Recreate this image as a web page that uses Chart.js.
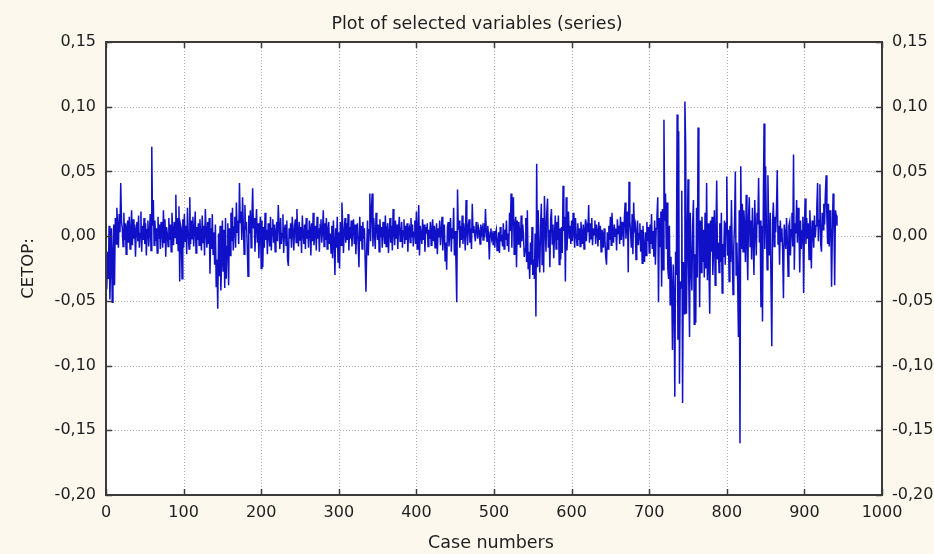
<!DOCTYPE html>
<html>
<head>
<meta charset="utf-8">
<title>Plot of selected variables (series)</title>
<script src="https://cdn.jsdelivr.net/npm/chart.js@4"></script>
<style>
  html, body { margin: 0; padding: 0; background: #fcf8ee; }
  canvas { display: block; }
</style>
</head>
<body>
<canvas id="c" width="934" height="554"></canvas>
<script>
// ---- Texts ----
const chartTitle = "Plot of selected variables (series)";
const xAxisTitle = "Case numbers";
const yAxisTitle = "CETOP:";

// ---- Tick values and labels ----
const xTickValues = [0, 100, 200, 300, 400, 500, 600, 700, 800, 900, 1000];
const xTickLabels = ["0", "100", "200", "300", "400", "500", "600", "700", "800", "900", "1000"];
const yTickValues = [-0.20, -0.15, -0.10, -0.05, 0.00, 0.05, 0.10, 0.15];
const yTickLabels = ["-0,20", "-0,15", "-0,10", "-0,05", "0,00", "0,05", "0,10", "0,15"];

// ---- Series: CETOP values, case 1 .. 942 ----
const cetopValues = [
-0.041,-0.012,-0.033,0.008,-0.049,-0.022,0.006,-0.051,-0.015,0.009,
-0.038,0.014,-0.006,0.022,0.008,-0.009,0.017,0.003,0.041,0.011,
0.006,-0.008,0.018,-0.003,0.010,-0.014,0.007,0.012,-0.005,0.015,
-0.010,0.004,0.020,-0.007,0.013,-0.002,0.009,-0.016,0.005,0.011,
-0.004,0.016,-0.009,0.002,0.019,-0.012,0.008,-0.003,0.014,-0.006,
0.010,-0.015,0.005,0.012,-0.008,0.003,0.017,-0.011,0.069,0.008,
0.028,-0.007,0.012,-0.004,0.006,-0.013,0.015,-0.002,0.009,-0.010,
0.011,0.004,-0.009,0.020,-0.005,0.013,-0.016,0.007,0.002,-0.008,
0.014,-0.003,0.009,-0.012,0.018,0.005,-0.007,0.011,-0.001,0.032,
-0.006,0.014,-0.011,0.023,-0.035,0.009,0.006,-0.033,0.013,-0.009,
0.017,-0.004,0.008,-0.014,0.022,0.003,-0.010,0.030,-0.006,0.012,
-0.002,0.015,-0.008,0.005,0.019,-0.013,0.007,-0.003,0.010,-0.007,
0.013,0.001,-0.011,0.016,-0.005,0.008,-0.015,0.021,0.004,-0.009,
0.011,-0.006,0.014,-0.029,0.006,-0.010,0.017,-0.014,0.003,-0.022,
0.009,-0.039,-0.018,-0.056,0.002,-0.031,0.008,-0.042,-0.020,0.012,
-0.027,0.005,-0.040,0.014,-0.033,-0.008,0.010,-0.038,0.006,-0.015,
0.018,-0.004,0.022,-0.011,0.007,0.015,-0.009,0.026,0.003,0.012,
-0.006,0.041,0.010,0.019,-0.003,0.030,0.008,-0.014,0.024,0.005,
0.011,-0.007,-0.031,0.016,0.002,0.020,-0.009,0.013,0.037,0.006,
0.014,-0.012,0.008,0.021,-0.005,0.010,-0.017,0.004,0.015,-0.025,
0.012,-0.024,0.007,-0.009,0.018,-0.003,0.005,-0.014,0.010,0.002,
-0.008,0.015,-0.011,0.006,0.013,-0.005,0.009,-0.012,0.003,0.011,
-0.004,0.024,0.008,-0.010,0.014,-0.006,0.002,0.017,-0.013,0.005,
0.009,-0.007,0.012,-0.018,-0.023,0.006,-0.002,0.010,-0.009,0.015,
0.004,-0.011,0.008,0.013,-0.005,0.021,0.003,-0.008,0.011,-0.003,
0.007,-0.013,0.016,0.001,-0.006,0.009,-0.010,0.014,-0.002,0.005,
-0.009,0.012,0.006,-0.015,0.010,-0.004,0.018,-0.007,0.003,0.008,
-0.011,0.015,-0.002,0.006,-0.012,0.009,0.013,-0.005,0.004,0.020,
-0.008,0.010,-0.003,0.014,-0.010,0.005,0.011,-0.006,0.002,-0.013,
0.008,-0.017,0.012,-0.004,-0.030,0.006,-0.009,0.015,-0.020,0.003,
-0.025,0.011,-0.007,0.026,0.009,-0.013,0.004,0.014,-0.005,0.010,
-0.003,0.017,-0.011,0.007,-0.002,0.012,-0.008,0.005,0.013,-0.006,
0.009,-0.014,0.003,0.010,-0.007,-0.024,0.015,-0.004,0.008,-0.010,
0.011,-0.002,0.006,-0.019,-0.043,-0.009,0.012,-0.015,0.005,0.033,
-0.004,0.020,0.033,-0.008,0.014,0.002,-0.010,0.018,0.006,-0.003,
0.009,-0.012,0.013,-0.001,0.007,-0.009,0.011,0.004,-0.006,0.016,
-0.008,0.005,0.010,-0.013,0.002,0.014,-0.005,0.008,-0.011,0.021,
0.003,-0.007,0.012,-0.002,0.009,-0.010,0.006,0.015,-0.004,0.001,
0.011,-0.009,0.004,0.013,-0.006,0.008,-0.003,0.010,-0.012,0.005,
0.007,-0.005,0.014,-0.001,0.009,-0.008,0.003,0.012,-0.006,0.019,
-0.010,0.004,0.024,-0.015,0.008,0.001,-0.006,0.013,-0.003,0.009,
-0.012,0.007,0.002,0.010,-0.008,0.005,-0.002,0.011,-0.007,0.006,
0.013,-0.004,0.008,-0.009,0.003,0.010,-0.014,0.006,-0.001,0.012,
-0.007,0.004,0.015,-0.011,0.002,0.009,-0.019,-0.005,-0.026,0.007,
0.011,-0.008,0.003,0.014,-0.012,0.006,-0.002,0.022,-0.015,0.004,
-0.020,-0.051,0.036,0.005,0.012,-0.009,0.008,-0.003,0.016,-0.006,
0.010,0.002,-0.011,0.028,0.004,-0.007,0.009,0.013,-0.005,0.006,
-0.010,0.025,0.003,0.008,0.001,-0.004,0.011,0.005,-0.002,0.007,
0.004,-0.006,0.009,0.002,0.006,-0.003,0.010,-0.001,0.021,0.005,
-0.004,0.008,0.000,-0.018,0.003,0.006,-0.002,0.001,-0.007,0.004,
-0.009,0.002,0.005,-0.011,-0.006,0.003,-0.013,0.007,-0.004,0.001,
-0.008,0.010,-0.010,0.005,-0.003,0.012,-0.007,0.002,-0.012,0.018,
0.004,0.033,-0.009,0.026,0.030,-0.014,0.008,0.015,-0.024,0.012,
-0.006,0.011,0.003,-0.009,0.016,-0.004,0.009,0.001,-0.016,-0.010,
0.014,-0.020,0.020,-0.025,-0.012,-0.033,-0.005,-0.022,0.007,-0.030,
-0.018,-0.033,0.002,-0.062,0.056,-0.024,0.020,-0.015,-0.028,0.008,
0.025,-0.022,0.014,-0.028,0.031,0.006,-0.012,0.018,0.029,-0.009,
0.005,-0.024,0.013,0.021,-0.006,0.009,-0.017,0.002,0.016,-0.010,
0.011,-0.003,0.016,-0.022,0.006,-0.018,0.007,-0.013,0.039,0.004,
0.015,-0.035,0.030,-0.011,0.005,0.019,-0.002,0.008,-0.006,0.012,
-0.004,0.018,0.003,-0.009,0.014,0.001,-0.007,0.010,-0.003,0.006,
-0.008,0.011,0.002,-0.006,0.009,-0.010,0.005,0.013,-0.004,0.007,
0.003,0.024,-0.005,0.010,-0.002,0.014,-0.007,0.006,0.001,0.012,
-0.006,0.009,0.004,-0.008,0.011,-0.003,0.008,-0.012,0.005,0.002,
-0.009,0.006,-0.004,-0.016,-0.022,0.003,-0.010,0.008,-0.003,0.015,
-0.007,0.018,0.004,-0.005,0.009,0.000,0.006,-0.011,0.013,0.002,
0.008,-0.006,0.015,-0.003,0.011,0.005,-0.008,0.014,0.026,-0.002,
0.010,0.019,-0.028,0.042,0.012,0.003,-0.009,0.017,-0.014,0.026,
0.006,0.009,-0.018,0.004,0.012,-0.007,0.002,0.010,-0.012,0.005,
-0.021,0.008,-0.009,-0.020,0.003,-0.015,0.011,-0.004,0.007,-0.013,
0.009,-0.006,0.017,-0.010,0.004,-0.016,0.012,-0.022,0.006,0.015,
0.030,-0.051,0.014,-0.008,0.019,-0.039,0.021,-0.026,0.090,0.012,
0.033,-0.010,0.026,-0.025,-0.033,0.008,-0.053,-0.016,-0.038,-0.088,
-0.022,-0.045,-0.124,-0.012,-0.030,0.094,-0.080,0.081,-0.114,-0.035,
-0.040,0.035,-0.129,-0.020,-0.060,0.104,0.070,-0.060,-0.010,0.044,
-0.035,-0.078,0.018,-0.025,-0.042,0.008,0.028,-0.068,-0.014,-0.067,
0.022,-0.032,0.084,0.010,-0.055,0.012,-0.028,0.015,-0.020,0.005,
-0.032,0.018,-0.025,0.041,-0.034,0.010,-0.025,-0.060,0.012,-0.012,
0.015,-0.030,-0.008,0.020,-0.038,0.002,0.043,-0.018,-0.005,-0.028,
0.010,-0.020,0.018,-0.044,-0.006,-0.016,0.012,-0.022,0.010,0.046,
-0.015,0.005,-0.035,0.008,-0.020,0.028,-0.012,-0.045,-0.008,0.010,
0.050,-0.030,-0.005,-0.035,-0.078,0.020,-0.160,0.054,-0.010,0.025,
-0.012,0.020,0.008,-0.020,0.032,-0.005,-0.034,0.015,0.030,-0.008,
0.012,-0.018,0.022,-0.003,-0.030,0.028,0.005,-0.015,0.018,0.009,
0.045,-0.005,0.012,-0.055,0.008,-0.066,0.020,0.087,-0.010,0.054,
0.010,-0.026,0.047,0.005,-0.015,0.018,-0.039,-0.085,0.012,0.026,
-0.008,0.015,0.003,0.020,0.051,-0.006,0.008,-0.022,0.012,-0.004,
0.006,-0.012,-0.048,0.009,0.002,-0.010,0.014,-0.003,-0.031,0.008,
0.011,-0.015,0.005,0.018,-0.008,0.063,-0.026,0.010,0.002,0.028,
-0.005,0.022,0.006,-0.028,0.012,-0.010,0.004,0.015,-0.044,0.008,
0.029,-0.006,0.014,-0.002,0.010,-0.018,0.020,0.003,-0.025,0.012,
0.005,-0.009,0.016,-0.001,0.008,0.022,0.041,-0.004,0.012,0.040,
-0.006,-0.012,0.018,0.005,0.025,0.009,0.032,0.047,0.014,-0.006,
0.025,-0.008,0.020,0.010,-0.039,0.002,0.033,0.015,-0.038,0.020,
0.016,0.008
];
// case numbers 1..N
const caseNumbers = cetopValues.map((_, i) => i + 1);

const FONT = "'DejaVu Sans', 'Liberation Sans', Arial, sans-serif";
const TEXT_COLOR = '#1e1e1e';
const BG = '#fcf8ee';

const framePlugin = {
  id: 'framePlugin',
  beforeDraw(chart) {
    const { ctx, chartArea: a } = chart;
    ctx.save();
    ctx.fillStyle = BG;
    ctx.fillRect(0, 0, chart.width, chart.height);
    ctx.fillStyle = '#ffffff';
    ctx.fillRect(a.left, a.top, a.right - a.left, a.bottom - a.top);
    // dotted grid
    const xs = chart.scales.x, ys = chart.scales.y;
    ctx.strokeStyle = '#b0b0b0';
    ctx.lineWidth = 1;
    ctx.setLineDash([1, 2]);
    xTickValues.forEach(v => {
      const px = Math.round(xs.getPixelForValue(v)) + 0.5;
      if (px <= a.left + 1 || px >= a.right - 1) return;
      ctx.beginPath(); ctx.moveTo(px, a.top); ctx.lineTo(px, a.bottom); ctx.stroke();
    });
    yTickValues.forEach(v => {
      const py = Math.round(ys.getPixelForValue(v)) + 0.5;
      if (py <= a.top + 1 || py >= a.bottom - 1) return;
      ctx.beginPath(); ctx.moveTo(a.left, py); ctx.lineTo(a.right, py); ctx.stroke();
    });
    ctx.restore();
  },
  afterDatasetsDraw(chart) {
    const { ctx, chartArea: a } = chart;
    const xs = chart.scales.x, ys = chart.scales.y;
    ctx.save();
    ctx.strokeStyle = '#3a3a3a';
    ctx.lineWidth = 2;
    ctx.setLineDash([]);
    ctx.strokeRect(a.left, a.top, a.right - a.left, a.bottom - a.top);
    ctx.lineWidth = 1.5;
    const tl = 6;
    xTickValues.forEach(v => {
      const px = Math.round(xs.getPixelForValue(v)) + 0.5;
      ctx.beginPath(); ctx.moveTo(px, a.bottom); ctx.lineTo(px, a.bottom - tl); ctx.stroke();
      ctx.beginPath(); ctx.moveTo(px, a.top); ctx.lineTo(px, a.top + tl); ctx.stroke();
    });
    yTickValues.forEach(v => {
      const py = Math.round(ys.getPixelForValue(v)) + 0.5;
      ctx.beginPath(); ctx.moveTo(a.left, py); ctx.lineTo(a.left + tl, py); ctx.stroke();
      ctx.beginPath(); ctx.moveTo(a.right, py); ctx.lineTo(a.right - tl, py); ctx.stroke();
    });
    ctx.restore();
  },
  afterDraw(chart) {
    const { ctx } = chart;
    ctx.save();
    ctx.fillStyle = TEXT_COLOR;
    ctx.textAlign = 'center';
    ctx.textBaseline = 'alphabetic';
    ctx.font = "17.5px " + FONT;
    ctx.fillText(chartTitle, 477, 28.5);
    ctx.fillText(xAxisTitle, 491, 547.5);
    ctx.font = "16.5px " + FONT;
    ctx.translate(33, 268.5);
    ctx.rotate(-Math.PI / 2);
    ctx.fillText(yAxisTitle, 0, 0);
    ctx.restore();
  }
};

const tickFont = { family: FONT, size: 16 };

new Chart(document.getElementById('c'), {
  type: 'line',
  data: {
    datasets: [{
      label: yAxisTitle,
      data: caseNumbers.map((c, i) => ({ x: c, y: cetopValues[i] })),
      borderColor: '#1010c8',
      borderWidth: 1.5,
      pointRadius: 0,
      tension: 0,
      fill: false,
      yAxisID: 'y'
    }]
  },
  options: {
    responsive: false,
    animation: false,
    events: [],
    layout: { padding: { top: 42, left: 0, right: 0, bottom: 0 } },
    plugins: { legend: { display: false }, title: { display: false }, tooltip: { enabled: false } },
    scales: {
      x: {
        type: 'linear', min: 0, max: 1000,
        afterBuildTicks: s => { s.ticks = xTickValues.map(v => ({ value: v })); },
        afterFit: s => { s.height = 59; },
        grid: { display: false, drawTicks: false },
        border: { display: false },
        ticks: { font: tickFont, color: TEXT_COLOR, padding: 8, maxRotation: 0, autoSkip: false,
                 callback: (v, i) => xTickLabels[i] }
      },
      y: {
        type: 'linear', position: 'left', min: -0.2, max: 0.15,
        afterBuildTicks: s => { s.ticks = yTickValues.map(v => ({ value: v })); },
        afterFit: s => { s.width = 106; },
        grid: { display: false, drawTicks: false },
        border: { display: false },
        ticks: { font: tickFont, color: TEXT_COLOR, padding: 10, autoSkip: false,
                 callback: (v, i) => yTickLabels[i] }
      },
      y2: {
        type: 'linear', position: 'right', min: -0.2, max: 0.15,
        afterBuildTicks: s => { s.ticks = yTickValues.map(v => ({ value: v })); },
        afterFit: s => { s.width = 52; },
        grid: { display: false, drawTicks: false },
        border: { display: false },
        ticks: { font: tickFont, color: TEXT_COLOR, padding: 10, autoSkip: false,
                 callback: (v, i) => yTickLabels[i] }
      }
    }
  },
  plugins: [framePlugin]
});
</script>
</body>
</html>
